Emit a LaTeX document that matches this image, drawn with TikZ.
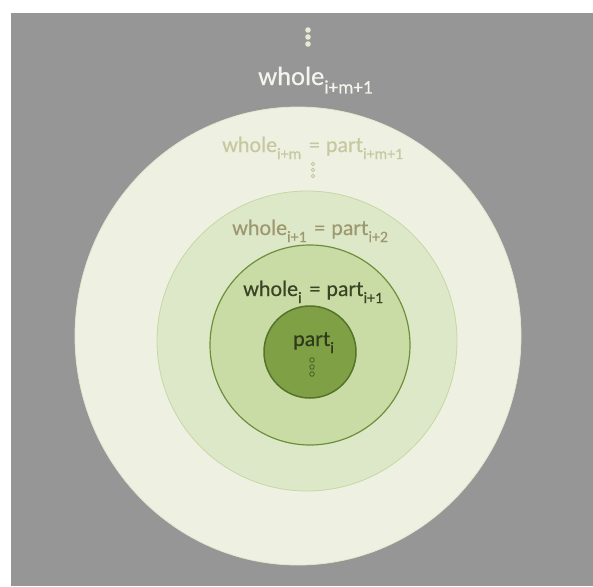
\documentclass[tikz,border=0pt]{standalone}
\usepackage{fontspec}
\setmainfont{Carlito}
\newfontfamily\semif[FakeBold=0.4]{Carlito}
\definecolor{bggray}{HTML}{969696}
\definecolor{ringA}{HTML}{EEF1E1}
\definecolor{ringAline}{HTML}{E2E6CF}
\definecolor{ringB}{HTML}{DDE8C8}
\definecolor{ringBline}{HTML}{C6D7A4}
\definecolor{ringC}{HTML}{C9DCA6}
\definecolor{ringCline}{HTML}{6E8F3A}
\definecolor{ringD}{HTML}{80A046}
\definecolor{ringDline}{HTML}{56732A}
\definecolor{txtA}{HTML}{F4F6EE}
\definecolor{dotA}{HTML}{E6EBD3}
\definecolor{txtB}{HTML}{C6C8A0}
\definecolor{txtC}{HTML}{9E9870}
\definecolor{txtD}{HTML}{3A4424}
\definecolor{txtE}{HTML}{2F3A1C}
\newcommand{\lowsub}[1]{\raisebox{-0.32em}{\scalebox{0.72}{#1}}}
\newcommand{\eqsign}{\hspace{0.12em} = \hspace{0.05em}}
\tikzset{
  lbl/.style={inner sep=0pt, anchor=base west},
  bigfont/.style={font=\semif\fontsize{26.5}{30}\selectfont},
  midfont/.style={font=\semif\fontsize{22}{25}\selectfont},
}
\begin{document}
\begin{tikzpicture}[x=1pt,y=-1pt]
\useasboundingbox (0,0) rectangle (593,586);
\fill[white] (0,0) rectangle (593,586);
\fill[bggray] (11,13) rectangle (593,586);
% rings
\fill[ringA, draw=ringAline, line width=0.8pt] (298,336) ellipse [x radius=223, y radius=229];
\fill[ringB, draw=ringBline, line width=0.8pt] (307,341) circle [radius=150];
\fill[ringC, draw=ringCline, line width=1.2pt] (310,345) circle [radius=100];
\fill[ringD, draw=ringDline, line width=1.5pt] (310,352) circle [radius=46];
% top dots
\foreach \yy in {30,37,44}
  \fill[dotA] (308,\yy) circle [radius=2.8];
% labels
\node[lbl, bigfont, text=txtA] (top) at (258,85) {whole\lowsub{i+m+1}};
\node[lbl, midfont, text=txtB] (lm) at (222,152) {whole\lowsub{i+m}\eqsign part\lowsub{i+m+1}};
\node[lbl, midfont, text=txtC] (l1) at (232,235) {whole\lowsub{i+1}\eqsign part\lowsub{i+2}};
\node[lbl, midfont, text=txtD] (l0) at (243,296) {whole\lowsub{i}\eqsign part\lowsub{i+1}};
\node[lbl, midfont, text=txtE] (p0) at (293,346) {part\lowsub{i}};
% middle dots
\foreach \yy in {164,170,176}
  \draw[txtB, fill=ringA!70!txtB, line width=0.6pt] (313,\yy) circle [radius=1.9];
% inner dots
\foreach \yy in {360,367,374}
  \draw[ringDline!80!black, line width=0.8pt] (312,\yy) circle [radius=2.3];
\end{tikzpicture}
\end{document}
